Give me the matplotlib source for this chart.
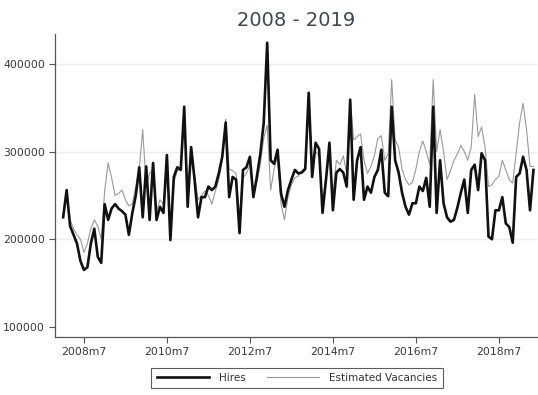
import matplotlib
matplotlib.use("Agg")
import matplotlib.pyplot as plt
import numpy as np

# Monthly series, 2008m1 .. 2019m5 (thousands)
hires_k = [
    225, 256, 215, 205, 195, 175, 165, 168, 195, 212, 180, 173,
    240, 222, 235, 240, 235, 232, 228, 205, 230, 250, 282, 225,
    283, 222, 287, 222, 237, 230, 296, 199, 271, 282, 279, 351,
    237, 305, 268, 225, 248, 248, 260, 256, 260, 275, 294, 333,
    248, 271, 268, 207, 279, 282, 294, 248, 271, 297, 333, 424,
    290, 286, 302, 252, 237, 256, 268, 279, 275, 276, 280, 367,
    271, 310, 303, 230, 268, 310, 233, 276, 280, 276, 260, 359,
    245, 290, 305, 245, 260, 253, 271, 279, 302, 253, 249, 351,
    290, 276, 253, 237, 228, 241, 241, 260, 255, 270, 237, 351,
    230, 290, 241, 225, 220, 222, 236, 253, 268, 230, 279, 285,
    256, 298, 290, 203, 200, 233, 233, 248, 218, 214, 196, 271,
    275, 294, 279, 233, 279,
]
vacancies_k = [
    230, 250, 222, 212, 205, 200, 185, 195, 212, 222, 215, 200,
    255, 287, 270, 250, 252, 256, 245, 238, 240, 260, 280, 325,
    260, 275, 280, 232, 245, 240, 285, 215, 265, 278, 280, 340,
    260, 295, 272, 245, 250, 255, 250, 240, 255, 268, 290, 337,
    280, 278, 275, 225, 270, 275, 285, 250, 265, 285, 315, 330,
    256, 280, 295, 240, 222, 248, 262, 270, 272, 278, 282, 355,
    285, 300, 295, 245, 265, 300, 250, 290, 285, 295, 275, 360,
    313, 317, 320, 290, 275, 283, 295, 315, 318, 290, 297, 382,
    313, 305, 280, 268, 262, 265, 280, 300, 312, 300, 285, 382,
    300, 325, 300, 268, 278, 290, 297, 307, 300, 290, 305, 365,
    317, 328, 305, 260, 262, 268, 272, 290, 279, 268, 264, 298,
    333, 355, 325, 283, 283,
]
tick_months = [6, 30, 54, 78, 102, 126]
tick_labels = ["2008m7", "2010m7", "2012m7", "2014m7", "2016m7", "2018m7"]
y_ticks = [100000, 200000, 300000, 400000]
y_labels = ["100000", "200000", "300000", "400000"]

hires = np.array(hires_k) * 1000
vacancies = np.array(vacancies_k) * 1000
months = np.arange(len(hires))

plt.rcParams["font.family"] = ["DejaVu Sans"]

fig = plt.figure(figsize=(5.38, 3.95), dpi=100)
ax = fig.add_axes([0.102, 0.147, 0.896, 0.767])

ax.plot(months, vacancies, color="#9a9a9a", lw=0.8, label="Estimated Vacancies", zorder=2)
ax.plot(months, hires, color="#111111", lw=1.9, label="Hires", zorder=3)

ax.set_xlim(-2.4, 137.0)
ax.set_ylim(88600, 434000)

ax.set_xticks(tick_months)
ax.set_xticklabels(tick_labels)
ax.set_yticks(y_ticks)
ax.set_yticklabels(y_labels)

for v in y_ticks[1:]:
    ax.axhline(v, color="#ececec", lw=1.0, zorder=0)

for side in ["top", "right"]:
    ax.spines[side].set_visible(False)
for side in ["left", "bottom"]:
    ax.spines[side].set_color("#555555")
    ax.spines[side].set_linewidth(0.9)

ax.tick_params(axis="both", direction="out", length=4, width=0.8,
               color="#555555", labelsize=7.8, labelcolor="#3a3a3a", pad=3)

fig.text(0.551, 0.947, "2008 - 2019", ha="center", va="center",
         fontsize=14, color="#3e4754")

handles, labels = ax.get_legend_handles_labels()
leg = fig.legend(handles[::-1], labels[::-1], loc="center",
                 bbox_to_anchor=(0.552, 0.043), ncol=2, frameon=True,
                 fancybox=False, fontsize=7.5, handlelength=5.0,
                 columnspacing=2.0, handletextpad=1.0,
                 borderpad=0.5, borderaxespad=0)
leg.get_frame().set_edgecolor("#333333")
leg.get_frame().set_linewidth(0.8)
for t in leg.get_texts():
    t.set_color("#333333")

fig.savefig("out.png", dpi=100, facecolor="white")
